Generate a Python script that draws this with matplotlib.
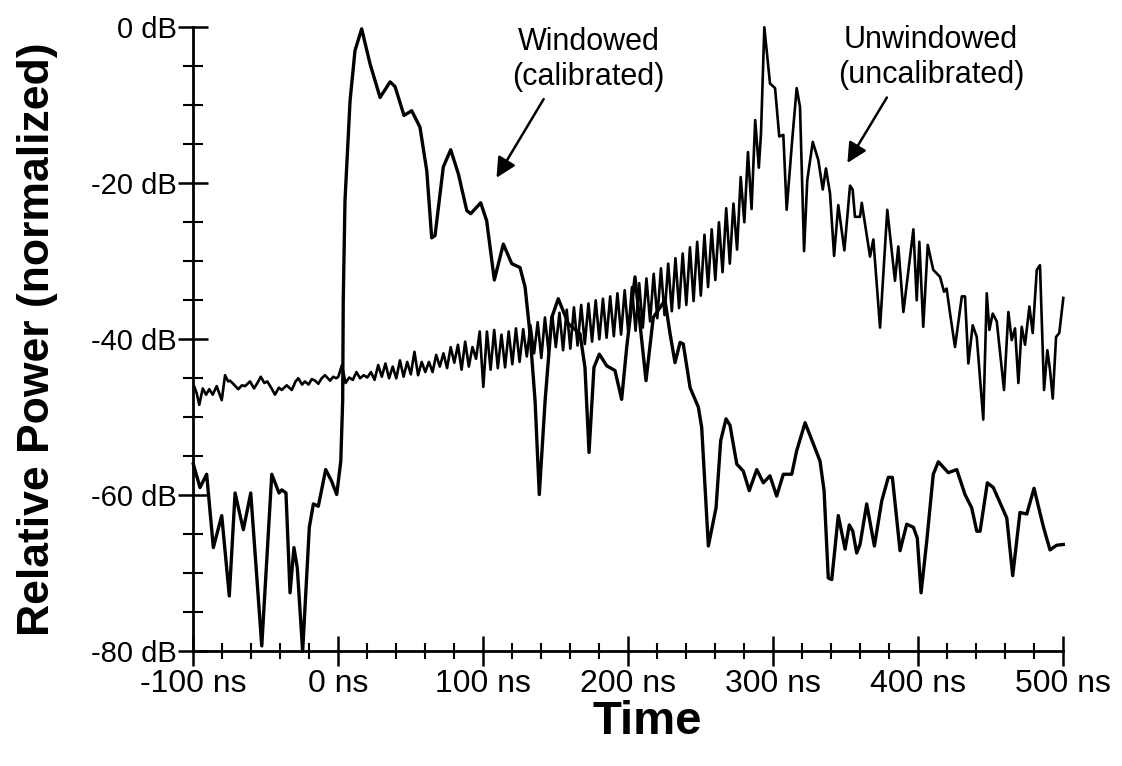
import numpy as np
import matplotlib
matplotlib.use("Agg")
import matplotlib.pyplot as plt

plt.rcParams['font.family'] = ['Liberation Sans', 'DejaVu Sans']

# windowed (calibrated) response, time in ns / power in dB
windowed_t = [
    -100.0, -95.4, -90.8, -86.2, -80.4, -75.2, -71.2, -65.5, -60.4, -52.8,
    -45.9, -40.9, -39.0, -36.1, -33.3, -30.6, -28.3, -24.6, -20.0, -17.2,
    -13.8, -8.7, -4.6, -1.1, 1.7, 3.0, 3.4, 4.6, 8.1, 11.5,
    16.1, 21.9, 28.8, 35.7, 39.1, 45.3, 50.6, 56.3, 61.0, 64.4,
    66.7, 72.4, 77.5, 82.8, 88.6, 91.3, 98.2, 102.3, 107.6, 113.8,
    119.6, 125.3, 128.8, 132.2, 135.7, 138.6, 142.6, 147.2, 151.7, 158.6,
    166.7, 170.1, 172.9, 176.3, 180.0, 185.1, 190.8, 195.4, 198.9, 204.6,
    212.2, 217.2, 225.3, 228.8, 232.2, 235.7, 237.9, 242.6, 248.3, 250.6,
    255.2, 260.5, 263.7, 267.4, 270.1, 274.8, 279.3, 283.4, 288.6, 293.1,
    297.7, 302.3, 306.9, 312.7, 316.1, 321.9, 327.6, 332.2, 335.0, 337.9,
    340.3, 344.8, 349.5, 352.4, 354.8, 357.5, 359.8, 364.4, 369.7, 374.8,
    379.3, 382.1, 387.4, 392.0, 396.6, 399.3, 401.9, 405.8, 410.3, 413.8,
    420.7, 426.5, 432.2, 436.8, 440.3, 442.6, 447.6, 451.7, 461.0, 465.1,
    470.1, 474.8, 479.8, 486.2, 490.8, 495.4, 500.0,
]
windowed_db = [
    -56.0, -59.0, -57.3, -66.7, -62.6, -72.9, -59.7, -64.4, -59.7, -79.3,
    -57.3, -59.7, -59.3, -59.7, -72.5, -66.7, -69.3, -80.0, -64.1, -61.1,
    -61.4, -56.7, -58.2, -59.9, -55.6, -47.9, -35.0, -22.2, -9.4, -3.0,
    -0.2, -4.7, -9.0, -7.0, -7.6, -11.3, -10.7, -12.8, -18.4, -27.0,
    -26.7, -17.9, -15.7, -18.8, -23.5, -23.9, -22.5, -24.8, -32.4, -27.8,
    -30.3, -30.8, -33.3, -39.3, -47.9, -59.9, -47.9, -37.2, -34.8, -38.0,
    -39.3, -43.6, -54.5, -43.6, -41.9, -43.4, -44.0, -47.7, -41.0, -32.0,
    -45.3, -37.2, -35.0, -39.3, -43.0, -40.4, -40.6, -46.2, -48.7, -51.3,
    -66.5, -61.6, -53.0, -50.2, -51.0, -56.0, -56.9, -59.4, -56.7, -58.4,
    -57.5, -60.1, -57.3, -57.3, -54.3, -50.7, -53.4, -55.6, -59.4, -70.6,
    -70.8, -62.6, -66.9, -63.8, -64.6, -67.4, -66.3, -61.1, -66.5, -60.7,
    -57.7, -57.7, -67.1, -63.7, -64.1, -65.5, -72.5, -65.9, -57.3, -55.7,
    -57.1, -56.7, -59.9, -61.6, -64.6, -64.6, -58.4, -59.0, -62.9, -70.3,
    -62.2, -62.4, -59.1, -64.0, -67.0, -66.4, -66.3,
]

# unwindowed (uncalibrated) response, before t = 0
unwin_pre_t = [
    -99.5, -97.7, -95.9, -93.5, -91.2, -89.0, -86.6, -83.9, -80.4, -78.1,
    -76.0, -74.7, -72.0, -69.0, -66.5, -64.3, -60.9, -58.1, -55.5, -53.5,
    -51.0, -49.0, -46.0, -43.7, -41.0, -39.0, -35.6, -32.1, -29.5, -27.6,
    -25.0, -23.0, -20.5, -18.3, -16.0, -13.8, -11.5, -9.2, -5.7, -3.5,
    -1.5,
]
unwin_pre_db = [
    -46.0, -46.9, -48.4, -46.3, -47.1, -46.4, -47.1, -46.0, -47.8, -44.6,
    -45.4, -45.3, -45.8, -46.4, -45.9, -46.0, -45.4, -46.3, -45.5, -44.8,
    -45.6, -45.4, -46.3, -47.1, -46.2, -46.5, -45.9, -46.5, -45.4, -45.0,
    -45.8, -45.4, -45.8, -45.1, -45.3, -45.7, -45.0, -44.6, -45.3, -44.8,
    -45.0,
]

# unwindowed, 0 .. 290 ns sampled every 2.5 ns (ringing part)
unwin_mid_t = np.arange(0, 292.5, 2.5)
unwin_mid_db = [
    -44.8, -43.3, -45.6, -44.9, -45.2, -44.2, -45.0, -44.6, -44.9, -44.2,
    -45.2, -43.3, -44.8, -43.1, -45.0, -43.5, -45.0, -42.7, -44.8, -42.9,
    -44.5, -41.6, -44.6, -42.9, -44.2, -42.9, -44.2, -42.0, -43.5, -41.8,
    -43.7, -41.0, -43.0, -40.7, -43.9, -40.3, -43.5, -41.0, -42.5, -39.0,
    -46.1, -39.0, -43.9, -38.8, -43.7, -39.4, -43.6, -39.0, -43.2, -38.6,
    -42.9, -38.7, -42.2, -38.2, -41.8, -37.8, -42.4, -37.2, -41.6, -36.9,
    -41.0, -36.6, -41.4, -36.2, -41.2, -35.9, -40.8, -35.6, -40.6, -35.4,
    -40.3, -35.0, -40.0, -34.8, -39.8, -34.5, -39.6, -34.1, -39.4, -33.7,
    -39.2, -33.3, -38.9, -32.8, -38.5, -32.2, -37.7, -31.6, -37.3, -30.9,
    -36.9, -30.3, -36.4, -29.6, -36.0, -29.0, -35.6, -28.2, -35.1, -27.5,
    -34.4, -26.6, -33.3, -25.9, -32.4, -25.0, -31.4, -23.2, -30.3, -22.6,
    -28.5, -19.2, -25.0, -16.0, -23.3, -11.9, -18.0,
]

# unwindowed, from the main peak to 500 ns
unwin_post_t = [
    291.5, 293.8, 297.7, 301.2, 304.1, 306.9, 309.2, 313.0, 316.1, 318.4,
    321.2, 323.4, 327.2, 331.0, 334.1, 336.3, 339.1, 341.9, 344.8, 349.0,
    352.9, 354.7, 356.3, 359.8, 361.0, 366.7, 369.0, 373.6, 378.6, 383.9,
    386.2, 389.7, 396.6, 398.9, 400.7, 403.4, 406.5, 410.3, 415.0, 417.7,
    419.5, 421.9, 425.3, 430.0, 432.2, 434.5, 437.5, 440.3, 444.8, 447.2,
    449.0, 451.3, 454.1, 459.1, 462.1, 464.4, 466.7, 469.0, 471.3, 473.6,
    476.6, 478.9, 481.7, 483.9, 486.7, 489.0, 490.8, 492.7, 495.0, 497.2,
    500.0,
]
unwin_post_db = [
    -13.6, 0.0, -7.2, -7.8, -14.0, -13.8, -23.4, -14.5, -7.8, -10.2,
    -28.7, -19.6, -14.7, -17.0, -20.8, -18.1, -21.3, -29.3, -22.8, -28.6,
    -20.3, -20.8, -24.3, -24.3, -22.5, -29.4, -27.2, -38.5, -23.4, -32.5,
    -28.1, -36.5, -25.9, -35.0, -27.5, -38.4, -27.9, -31.1, -32.0, -33.9,
    -33.5, -36.7, -41.0, -34.5, -34.5, -43.1, -38.2, -39.7, -50.3, -34.1,
    -38.8, -36.7, -37.7, -46.5, -36.5, -40.1, -38.6, -45.6, -38.4, -40.7,
    -35.8, -39.2, -31.1, -30.5, -46.5, -41.4, -43.9, -47.6, -39.7, -39.2,
    -34.7,
]

x_ticks = [-100, 0, 100, 200, 300, 400, 500]
x_tick_labels = ["-100 ns", "0 ns", "100 ns", "200 ns", "300 ns", "400 ns", "500 ns"]
y_ticks = [-80, -60, -40, -20, 0]
y_tick_labels = ["-80 dB", "-60 dB", "-40 dB", "-20 dB", "0 dB"]

unwin_t = np.concatenate([unwin_pre_t, unwin_mid_t, unwin_post_t])
unwin_db = np.concatenate([unwin_pre_db, unwin_mid_db, unwin_post_db])

fig = plt.figure(figsize=(11.22, 7.66), dpi=100)
ax = fig.add_axes([0.1723, 0.1497, 0.7754, 0.8147])

ax.plot(unwin_t, unwin_db, color='black', lw=1.9, solid_joinstyle='round', clip_on=False)
ax.plot(windowed_t, windowed_db, color='black', lw=2.4, solid_joinstyle='round', clip_on=False)

ax.set_xlim(-100, 500)
ax.set_ylim(-80, 0)
for s in ['top', 'right']:
    ax.spines[s].set_visible(False)
for s in ['left', 'bottom']:
    ax.spines[s].set_linewidth(2.0)

ax.set_xticks(x_ticks)
ax.set_xticklabels(x_tick_labels, fontsize=23)
ax.set_xticks(np.arange(-100, 501, 20), minor=True)
ax.set_yticks(y_ticks)
ax.set_yticklabels(y_tick_labels, fontsize=21)
ax.set_yticks(np.arange(-80, 1, 5), minor=True)
ax.tick_params(axis='x', which='major', direction='inout', length=21, width=1.8, pad=2)
ax.tick_params(axis='x', which='minor', direction='inout', length=11.5, width=1.5)
ax.tick_params(axis='y', which='major', direction='inout', length=22, width=1.8, pad=1)
ax.tick_params(axis='y', which='minor', direction='inout', length=14, width=1.5)

# labels for the two curves
ax.text(172.6, -4.1, "Windowed\n(calibrated)", fontsize=22, ha='center', va='center',
        multialignment='center')
ax.annotate("", xy=(108.1, -19.6), xytext=(142.6, -8.9),
            arrowprops=dict(arrowstyle='-|>', color='black', lw=1.8, mutation_scale=30))
ax.text(408.7, -3.9, "Unwindowed\n(uncalibrated)", fontsize=22, ha='center', va='center',
        multialignment='center')
ax.annotate("", xy=(350.1, -17.7), xytext=(379.3, -8.7),
            arrowprops=dict(arrowstyle='-|>', color='black', lw=1.8, mutation_scale=30))

fig.text(0.033, 0.557, "Relative Power (normalized)", fontsize=32, fontweight='bold',
         rotation=90, ha='center', va='center')
fig.text(0.577, 0.058, "Time", fontsize=34, fontweight='bold', ha='center', va='center')

fig.savefig("out.png", dpi=100)
